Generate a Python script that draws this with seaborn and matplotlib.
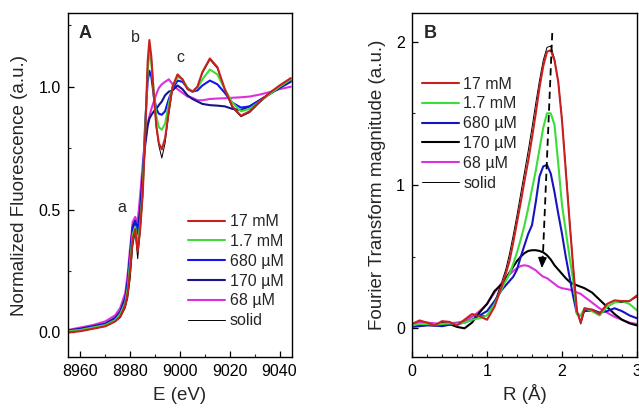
import matplotlib
matplotlib.use("Agg")
import matplotlib.pyplot as plt
import seaborn as sns
from matplotlib.ticker import MultipleLocator
from matplotlib.lines import Line2D

sns.set_style("ticks")
plt.rcParams["font.family"] = ["Liberation Sans", "DejaVu Sans"]
plt.rcParams["xtick.direction"] = "in"
plt.rcParams["ytick.direction"] = "in"

labels = ["17 mM", "1.7 mM", "680 µM", "170 µM", "68 µM", "solid"]

# ---- Panel A: normalized XANES spectra ----
energy = [8955, 8960, 8965, 8970, 8974, 8976, 8978, 8979, 8980, 8981, 8982, 8983,
          8984, 8985, 8986, 8987, 8987.7, 8988.5, 8989.5, 8990.5, 8991.5, 8992.7,
          8994, 8995.5, 8997, 8999, 9001, 9003, 9005, 9007, 9009, 9012, 9015, 9018,
          9021, 9024.5, 9028, 9032, 9036, 9040, 9044.5]

xanes_17mM = [0.00, 0.005, 0.015, 0.025, 0.045, 0.065, 0.11, 0.16, 0.26, 0.38, 0.42, 0.33,
              0.42, 0.56, 0.80, 1.10, 1.19, 1.12, 0.96, 0.84, 0.77, 0.745,
              0.79, 0.90, 1.00, 1.05, 1.03, 0.99, 0.98, 1.00, 1.06, 1.115, 1.08, 0.99,
              0.92, 0.882, 0.90, 0.94, 0.975, 1.005, 1.035]
xanes_1p7mM = [0.005, 0.01, 0.02, 0.03, 0.05, 0.075, 0.12, 0.18, 0.29, 0.40, 0.43, 0.36,
               0.44, 0.58, 0.82, 1.06, 1.14, 1.10, 0.97, 0.88, 0.835, 0.825,
               0.85, 0.93, 1.00, 1.04, 1.03, 0.995, 0.98, 0.995, 1.03, 1.07, 1.05, 0.99,
               0.935, 0.90, 0.91, 0.94, 0.97, 1.00, 1.03]
xanes_680uM = [0.005, 0.012, 0.022, 0.033, 0.055, 0.08, 0.13, 0.20, 0.31, 0.42, 0.45, 0.40,
               0.47, 0.62, 0.85, 1.02, 1.065, 1.04, 0.96, 0.91, 0.89, 0.886,
               0.90, 0.95, 0.99, 1.025, 1.02, 0.995, 0.98, 0.985, 1.005, 1.025, 1.01, 0.975,
               0.935, 0.915, 0.92, 0.945, 0.97, 1.00, 1.025]
xanes_170uM = [0.008, 0.015, 0.025, 0.036, 0.06, 0.085, 0.14, 0.21, 0.32, 0.43, 0.455, 0.42,
               0.50, 0.64, 0.76, 0.84, 0.87, 0.885, 0.90, 0.91, 0.925, 0.94,
               0.965, 0.98, 0.985, 1.005, 0.99, 0.965, 0.95, 0.94, 0.93, 0.925, 0.923, 0.92,
               0.91, 0.905, 0.92, 0.945, 0.97, 0.995, 1.02]
xanes_68uM = [0.01, 0.02, 0.03, 0.045, 0.07, 0.10, 0.16, 0.24, 0.35, 0.45, 0.47, 0.45,
              0.56, 0.68, 0.78, 0.85, 0.88, 0.91, 0.94, 0.97, 0.995, 1.01,
              1.02, 1.03, 1.01, 0.99, 0.975, 0.96, 0.955, 0.945, 0.945, 0.95, 0.952, 0.953,
              0.955, 0.957, 0.96, 0.968, 0.978, 0.99, 1.00]
xanes_solid = [0.00, 0.005, 0.015, 0.025, 0.045, 0.06, 0.10, 0.14, 0.22, 0.35, 0.41, 0.30,
               0.41, 0.55, 0.79, 1.09, 1.17, 1.11, 0.95, 0.83, 0.76, 0.71,
               0.77, 0.89, 0.99, 1.045, 1.03, 0.99, 0.98, 1.00, 1.055, 1.11, 1.075, 0.985,
               0.915, 0.878, 0.895, 0.935, 0.97, 1.0, 1.03]

# ---- Panel B: Fourier transform magnitude ----
r_dist = [0.0, 0.1, 0.2, 0.3, 0.4, 0.5, 0.6, 0.7, 0.8, 0.9, 1.0, 1.1, 1.2, 1.25, 1.3,
          1.35, 1.4, 1.45, 1.5, 1.55, 1.6, 1.65, 1.7, 1.75, 1.8, 1.85, 1.9, 1.95, 2.0,
          2.05, 2.1, 2.15, 2.2, 2.25, 2.3, 2.4, 2.5, 2.6, 2.7, 2.8, 2.9, 3.0]

ft_17mM = [0.03, 0.055, 0.04, 0.02, 0.05, 0.045, 0.02, 0.06, 0.10, 0.085, 0.06, 0.15, 0.30, 0.38, 0.47,
           0.60, 0.74, 0.88, 1.03, 1.17, 1.33, 1.50, 1.68, 1.83, 1.93, 1.94, 1.87, 1.72, 1.45,
           1.10, 0.75, 0.42, 0.12, 0.04, 0.14, 0.13, 0.10, 0.17, 0.195, 0.19, 0.19, 0.23]
ft_1p7mM = [0.02, 0.03, 0.03, 0.025, 0.03, 0.035, 0.03, 0.04, 0.06, 0.07, 0.09, 0.17, 0.28, 0.33, 0.38,
            0.45, 0.53, 0.62, 0.72, 0.84, 0.97, 1.10, 1.25, 1.40, 1.50, 1.50, 1.42, 1.15, 0.86,
            0.68, 0.50, 0.33, 0.10, 0.09, 0.14, 0.12, 0.09, 0.15, 0.18, 0.19, 0.17, 0.125]
ft_680uM = [0.01, 0.015, 0.02, 0.02, 0.015, 0.025, 0.03, 0.04, 0.06, 0.09, 0.12, 0.19, 0.27, 0.30, 0.33,
            0.36, 0.41, 0.50, 0.58, 0.66, 0.72, 0.88, 1.06, 1.13, 1.14, 1.08, 0.95, 0.80, 0.66,
            0.50, 0.36, 0.22, 0.10, 0.09, 0.12, 0.13, 0.11, 0.12, 0.14, 0.12, 0.09, 0.07]
ft_170uM = [0.02, 0.02, 0.025, 0.02, 0.02, 0.03, 0.01, 0.0, 0.04, 0.11, 0.17, 0.26, 0.31, 0.345, 0.39,
            0.43, 0.47, 0.50, 0.525, 0.54, 0.545, 0.545, 0.54, 0.53, 0.51, 0.48, 0.44, 0.41, 0.38,
            0.35, 0.325, 0.31, 0.30, 0.29, 0.28, 0.25, 0.20, 0.15, 0.10, 0.06, 0.035, 0.02]
ft_68uM = [0.035, 0.04, 0.04, 0.035, 0.03, 0.035, 0.04, 0.05, 0.08, 0.12, 0.17, 0.25, 0.32, 0.35, 0.375,
           0.40, 0.42, 0.435, 0.44, 0.435, 0.42, 0.405, 0.38, 0.36, 0.35, 0.33, 0.31, 0.29, 0.28,
           0.275, 0.27, 0.26, 0.25, 0.24, 0.22, 0.18, 0.14, 0.11, 0.08, 0.06, 0.04, 0.03]
ft_solid = [0.03, 0.045, 0.035, 0.025, 0.04, 0.04, 0.025, 0.05, 0.085, 0.085, 0.09, 0.18, 0.33, 0.41, 0.52,
            0.65, 0.79, 0.94, 1.09, 1.24, 1.40, 1.57, 1.73, 1.87, 1.96, 1.97, 1.88, 1.72, 1.46,
            1.12, 0.77, 0.43, 0.12, 0.03, 0.12, 0.12, 0.09, 0.15, 0.18, 0.18, 0.19, 0.22]

colors_a = ["#C8201E", "#3CDC3C", "#1414F0", "#16168C", "#DC30DC", "#000000"]
colors_b = ["#C8201E", "#3CDC3C", "#1414C0", "#000000", "#DC30DC", "#000000"]
widths = [1.5, 1.5, 1.5, 1.5, 1.5, 0.7]

fig = plt.figure(figsize=(6.39, 4.08), dpi=100)
W, H = 639, 408
ax_a = fig.add_axes([68 / W, 1 - 357 / H, 224 / W, 344 / H])
ax_b = fig.add_axes([412 / W, 1 - 357 / H, 225 / W, 344 / H])

series_a = [xanes_17mM, xanes_1p7mM, xanes_680uM, xanes_170uM, xanes_68uM, xanes_solid]
series_b = [ft_17mM, ft_1p7mM, ft_680uM, ft_170uM, ft_68uM, ft_solid]

# most dilute / reference curves underneath, concentrated samples on top
draw_order = [5, 4, 3, 2, 1, 0]
for i in draw_order:
    sns.lineplot(x=energy, y=series_a[i], ax=ax_a, color=colors_a[i], lw=widths[i],
                 estimator=None, sort=False, legend=False)
    sns.lineplot(x=r_dist, y=series_b[i], ax=ax_b, color=colors_b[i], lw=widths[i],
                 estimator=None, sort=False, legend=False)

handles_a = [Line2D([], [], color=c, lw=w) for c, w in zip(colors_a, widths)]
handles_b = [Line2D([], [], color=c, lw=w) for c, w in zip(colors_b, widths)]

tick_fs = 11.5
label_fs = 13.5

for ax in (ax_a, ax_b):
    for side in ("top", "right", "bottom", "left"):
        ax.spines[side].set_linewidth(1.0)
        ax.spines[side].set_color("black")
    ax.tick_params(which="major", length=4, width=0.9, labelsize=tick_fs, pad=5,
                   top=False, right=False, colors="black")
    ax.tick_params(which="minor", length=2.3, width=0.8, top=False, right=False)

ax_a.set_xlim(8955, 9045)
ax_a.set_ylim(-0.1, 1.3)
ax_a.xaxis.set_major_locator(MultipleLocator(20))
ax_a.xaxis.set_minor_locator(MultipleLocator(10))
ax_a.yaxis.set_major_locator(MultipleLocator(0.5))
ax_a.yaxis.set_minor_locator(MultipleLocator(0.25))
ax_a.yaxis.set_major_formatter(matplotlib.ticker.FormatStrFormatter("%.1f"))
ax_a.set_xlabel("E (eV)", fontsize=label_fs)
ax_a.set_ylabel("Normalized Fluorescence (a.u.)", fontsize=label_fs)
ax_a.xaxis.set_label_coords(0.5, -0.088)
ax_a.yaxis.set_label_coords(-0.177, 0.5)

ax_b.set_xlim(0, 3)
ax_b.set_ylim(-0.2, 2.2)
ax_b.xaxis.set_major_locator(MultipleLocator(1))
ax_b.xaxis.set_minor_locator(MultipleLocator(0.2))
ax_b.yaxis.set_major_locator(MultipleLocator(1))
ax_b.yaxis.set_minor_locator(MultipleLocator(0.5))
ax_b.set_xlabel("R (Å)", fontsize=label_fs)
ax_b.set_ylabel("Fourier Transform magnitude (a.u.)", fontsize=label_fs)
ax_b.xaxis.set_label_coords(0.5, -0.078)
ax_b.yaxis.set_label_coords(-0.117, 0.5)

ax_a.legend(handles_a, labels, loc="upper left", bbox_to_anchor=(0.536, 0.415),
            frameon=False, fontsize=tick_fs, borderpad=0, borderaxespad=0,
            handlelength=2.3, handletextpad=0.3, labelspacing=0.3)
ax_b.legend(handles_b, labels, loc="upper left", bbox_to_anchor=(0.044, 0.815),
            frameon=False, fontsize=tick_fs, borderpad=0, borderaxespad=0,
            handlelength=2.3, handletextpad=0.3, labelspacing=0.3)

# panel letters and feature labels
ax_a.text(0.045, 0.965, "A", transform=ax_a.transAxes, fontsize=13, fontweight="bold",
          va="top", ha="left")
ax_b.text(0.053, 0.965, "B", transform=ax_b.transAxes, fontsize=13, fontweight="bold",
          va="top", ha="left")
ax_a.text(8976.8, 0.51, "a", fontsize=11.5, ha="center", va="center")
ax_a.text(8982.0, 1.20, "b", fontsize=11.5, ha="center", va="center")
ax_a.text(9000.0, 1.12, "c", fontsize=11.5, ha="center", va="center")

# dashed arrow marking the decrease of the first-shell peak
ax_b.plot([1.87, 1.745], [2.06, 0.50], ls=(0, (4, 2.5)), color="black", lw=1.3)
ax_b.annotate("", xy=(1.73, 0.40), xytext=(1.742, 0.52),
              arrowprops=dict(arrowstyle="-|>,head_length=0.6,head_width=0.25",
                              color="black", lw=1.2))

fig.savefig("out.png", dpi=100)
